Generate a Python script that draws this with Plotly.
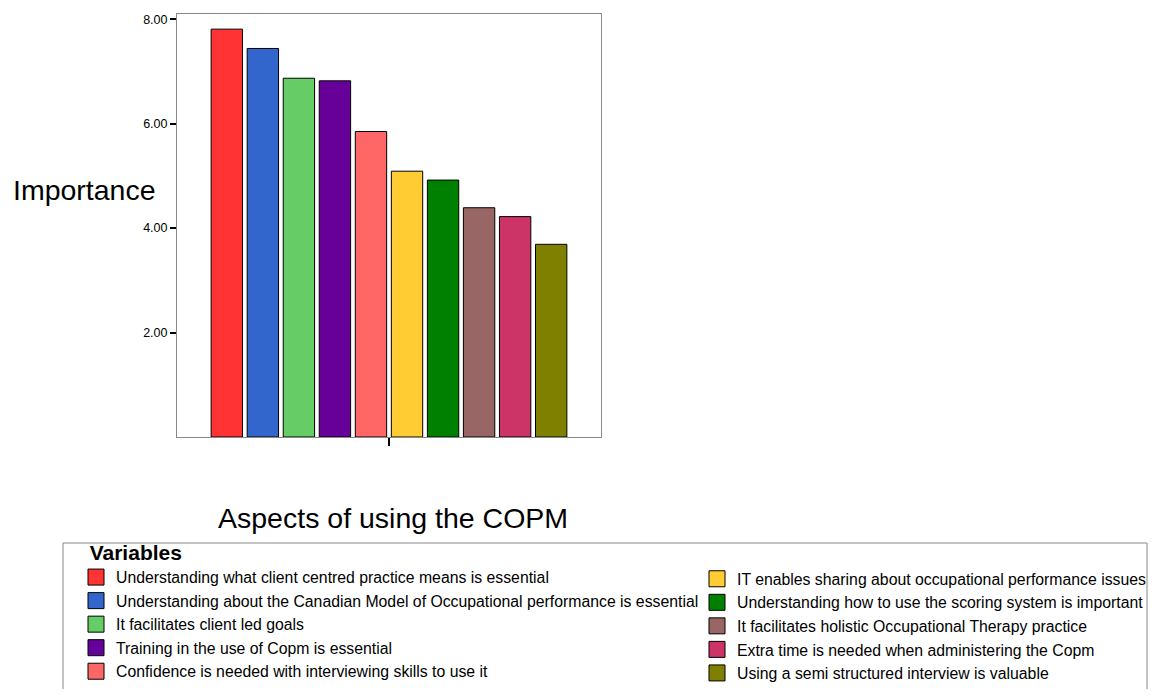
import plotly.graph_objects as go

categories = ["Aspects of using the COPM"]
labels = [
    "Understanding what client centred practice means is essential",
    "Understanding about the Canadian Model of Occupational performance is essential",
    "It facilitates client led goals",
    "Training in the use of Copm is essential",
    "Confidence is needed with interviewing skills to use it",
    "IT enables sharing about occupational performance issues",
    "Understanding how to use the scoring system is important",
    "It facilitates holistic Occupational Therapy practice",
    "Extra time is needed when administering the Copm",
    "Using a semi structured interview is valuable",
]
values = [7.81, 7.44, 6.87, 6.82, 5.85, 5.09, 4.92, 4.39, 4.22, 3.69]
colors = ["#FF3333", "#3366CC", "#66CC66", "#660099", "#FF6666",
          "#FFCC33", "#008000", "#996666", "#CC3366", "#808000"]
y_ticks = [2, 4, 6, 8]

FONT = "Arial, Liberation Sans, Helvetica, sans-serif"

OFF = 8  # page body margin
W, H = 1157 - 2 * OFF, 697 - 2 * OFF
# reference screen coordinates converted to figure coordinates
L, R, T, B = 177 - OFF, 601 - OFF, 14 - OFF, 437 - OFF
pw, ph = R - L, B - T


def px(x):
    return ((x - OFF) - L) / pw


def py(y):
    return (B - (y - OFF)) / ph


fig = go.Figure()
for i, (lab, v, c) in enumerate(zip(labels, values, colors)):
    fig.add_trace(go.Bar(
        x=categories, y=[v], name=lab,
        marker=dict(color=c, line=dict(color="#000000", width=1)),
        showlegend=False,
    ))
# legend entries (square swatches)
for i, (lab, c) in enumerate(zip(labels, colors)):
    fig.add_trace(go.Scatter(
        x=[None], y=[None], mode="markers", name=lab,
        marker=dict(symbol="square", size=16, color=c,
                    line=dict(color="#000000", width=1)),
        legend="legend" if i < 5 else "legend2",
        showlegend=True, hoverinfo="skip",
    ))

fig.update_layout(
    width=W, height=H,
    margin=dict(l=L, r=W - R, t=T, b=H - B, autoexpand=False),
    paper_bgcolor="white", plot_bgcolor="white",
    barmode="group", bargap=0.15, bargroupgap=0.13,
    font=dict(family=FONT, color="#000000"),
    xaxis=dict(
        range=[-0.5, 0.5], showticklabels=False,
        ticks="outside", ticklen=8, tickwidth=2, tickcolor="#000000",
        showline=True, linecolor="#888888", linewidth=1, mirror=True,
        showgrid=False, zeroline=False,
    ),
    yaxis=dict(
        range=[0, 8.1], tickvals=y_ticks, tickformat=".2f",
        ticks="outside", ticklen=6, tickwidth=2, tickcolor="#000000",
        tickfont=dict(size=12.5, family=FONT, color="#000000"),
        showline=True, linecolor="#888888", linewidth=1, mirror=True,
        showgrid=False, zeroline=False,
    ),
    legend=dict(
        x=px(76), y=py(533), xanchor="left", yanchor="top",
        title=dict(text="<b>\u00a0\u00a0Variables</b>", font=dict(size=21, family=FONT)),
        font=dict(size=15.8, family=FONT), bgcolor="rgba(0,0,0,0)",
        tracegroupgap=0, orientation="v", itemsizing="trace",
    ),
    legend2=dict(
        x=px(697), y=py(562), xanchor="left", yanchor="top",
        font=dict(size=15.8, family=FONT), bgcolor="rgba(0,0,0,0)",
        tracegroupgap=0, orientation="v", itemsizing="trace",
    ),
    showlegend=True,
)

fig.add_shape(type="rect", xref="paper", yref="paper",
              x0=px(63), x1=px(1147), y0=py(543), y1=py(712),
              line=dict(color="#888888", width=1), fillcolor="rgba(0,0,0,0)")

fig.add_annotation(text="Importance", xref="paper", yref="paper",
                   x=px(84.5), y=py(190), xanchor="center", yanchor="middle",
                   showarrow=False,
                   font=dict(size=28.5, family=FONT, color="#000000"))
fig.add_annotation(text="Aspects of using the COPM", xref="paper", yref="paper",
                   x=px(393), y=py(518), xanchor="center", yanchor="middle",
                   showarrow=False,
                   font=dict(size=28.5, family=FONT, color="#000000"))

fig.write_html("out.html")
